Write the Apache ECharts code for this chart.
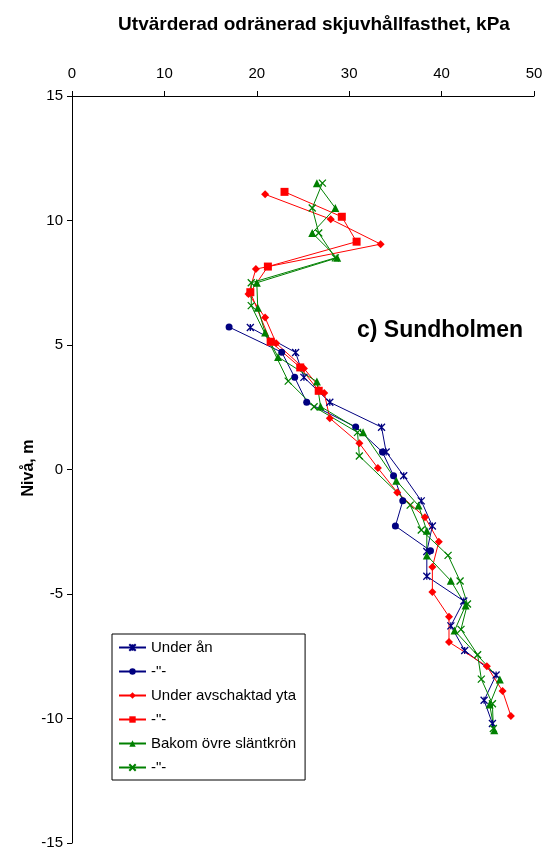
<!DOCTYPE html>
<html>
<head>
<meta charset="utf-8">
<script src="https://cdn.jsdelivr.net/npm/echarts@6/dist/echarts.min.js"></script>
<style>
html,body{margin:0;padding:0;background:#fff;}
#c{width:546px;height:851px;}
</style>
</head>
<body>
<div id="c"></div>
<script>
// ---- Data ----
const xTicks = [0, 10, 20, 30, 40, 50];
const yTicks = [15, 10, 5, 0, -5, -10, -15];

// Under ån (asterisk)
const anStarLevel = [5.7, 4.7, 3.7, 2.7, 1.7, 0.7, -0.25, -1.26, -2.27, -3.29, -4.29, -5.28, -6.28, -7.27, -8.25, -9.27, -10.2];
const anStarValue = [19.3, 24.2, 25.1, 27.9, 33.5, 34.0, 35.9, 37.8, 39.0, 38.4, 38.4, 42.4, 41.0, 42.5, 45.9, 44.6, 45.5];
// -"- (circle)
const anCircLevel = [5.72, 4.71, 3.70, 2.70, 1.71, 0.70, -0.25, -1.26, -2.27, -3.26];
const anCircValue = [17.0, 22.7, 24.1, 25.4, 30.7, 33.6, 34.8, 35.8, 35.0, 38.8];
// Under avschaktad yta (diamond)
const avDiaLevel = [11.05, 10.05, 9.05, 8.05, 7.05, 6.1, 5.07, 4.06, 3.07, 2.06, 1.05, 0.06, -0.92, -1.92, -2.9, -3.92, -4.92, -5.91, -6.93, -7.9, -8.9, -9.9];
const avDiaValue = [20.9, 28.0, 33.4, 19.9, 19.1, 20.9, 22.1, 25.1, 27.3, 27.9, 31.1, 33.1, 35.2, 38.2, 39.7, 39.0, 39.0, 40.8, 40.8, 44.9, 46.6, 47.5];
// -"- (square)
const avSqLevel = [11.15, 10.15, 9.15, 8.15, 7.12, 5.13, 4.1, 3.16];
const avSqValue = [23.0, 29.2, 30.8, 21.2, 19.3, 21.5, 24.7, 26.7];
// Bakom övre släntkrön (triangle)
const bkTriLevel = [11.5, 10.5, 9.5, 8.5, 7.5, 6.5, 5.5, 4.52, 3.53, 2.53, 1.5, -0.45, -1.45, -2.46, -3.45, -4.47, -5.46, -6.47, -8.43, -9.44, -10.47];
const bkTriValue = [26.5, 28.5, 26.0, 28.7, 20.0, 20.1, 20.9, 22.3, 26.5, 26.9, 31.5, 35.1, 37.5, 38.4, 38.4, 41.0, 42.6, 41.4, 46.3, 45.2, 45.7];
// -"- (x)
const bkXLevel = [11.5, 10.5, 9.5, 8.5, 7.5, 6.58, 3.55, 2.52, 1.49, 0.54, -1.43, -2.43, -3.45, -4.48, -5.4, -6.42, -7.44, -8.42, -9.41, -10.4];
const bkXValue = [27.1, 26.0, 26.7, 28.5, 19.4, 19.4, 23.4, 26.2, 30.9, 31.1, 36.6, 37.8, 40.7, 42.0, 42.8, 42.1, 43.9, 44.3, 45.5, 45.6];

const seriesNames = ['Under ån', '-"-', 'Under avschaktad yta', '-"- ', 'Bakom övre släntkrön', '-"-  '];

// ---- Build ----
function pts(xs, ys) { return xs.map((v, i) => [v, ys[i]]); }
const NAVY = '#000080', RED = '#FF0000', GREEN = '#008000';
const STAR = 'path://M0,0L10,10M10,0L0,10M5,0L5,10';
const CROSS = 'path://M0,0L10,10M10,0L0,10';

function mk(name, data, color, symbol, size, stroke) {
  return {
    name: name, type: 'line', data: data,
    symbol: symbol, symbolSize: size,
    showAllSymbol: true,
    lineStyle: { color: color, width: 1 },
    itemStyle: stroke ? { color: color, borderColor: color, borderWidth: 1.3 } : { color: color, borderWidth: 0 },
    emphasis: { disabled: true },
    animation: false,
    z: 2
  };
}

const chart = echarts.init(document.getElementById('c'), null, { renderer: 'canvas' });
const FONT = '"Liberation Sans", Arial, sans-serif';
chart.setOption({
  animation: false,
  textStyle: { fontFamily: FONT },
  grid: { left: 72, right: 12, top: 96, bottom: 8, containLabel: false },
  xAxis: {
    type: 'value', position: 'top', min: 0, max: 50, interval: 10,
    axisLine: { show: true, onZero: false, lineStyle: { color: '#000', width: 1 } },
    axisTick: { show: true, inside: false, length: 5, lineStyle: { color: '#000' } },
    axisLabel: { color: '#000', fontSize: 15, fontFamily: FONT, margin: 15,
      formatter: v => xTicks.includes(v) ? String(v) : '' },
    splitLine: { show: false }
  },
  yAxis: {
    type: 'value', min: -15, max: 15, interval: 5,
    axisLine: { show: true, onZero: false, lineStyle: { color: '#000', width: 1 } },
    axisTick: { show: true, inside: false, length: 5, lineStyle: { color: '#000' } },
    axisLabel: { color: '#000', fontSize: 15, fontFamily: FONT, margin: 9,
      formatter: v => yTicks.includes(v) ? String(v) : '' },
    splitLine: { show: false }
  },
  legend: {
    orient: 'vertical', left: 112, top: 634,
    backgroundColor: '#fff',
    borderColor: '#000', borderWidth: 1,
    padding: [6, 9, 5, 6],
    itemWidth: 27, itemHeight: 8, itemGap: 9,
    textStyle: { color: '#000', fontSize: 15, fontFamily: FONT },
    data: seriesNames
  },
  graphic: [
    { type: 'text', x: 314, y: 25, style: { text: 'Utvärderad odränerad skjuvhållfasthet, kPa', fill: '#000',
      font: 'bold 19px ' + FONT, textAlign: 'center', textVerticalAlign: 'middle' } },
    { type: 'text', x: 357, y: 331, style: { text: 'c) Sundholmen', fill: '#000',
      font: 'bold 23px ' + FONT, textAlign: 'left', textVerticalAlign: 'middle' } },
    { type: 'text', x: 29, y: 468, rotation: Math.PI / 2, style: { text: 'Nivå, m', fill: '#000',
      font: 'bold 16px ' + FONT, textAlign: 'center', textVerticalAlign: 'middle' } }
  ],
  series: [
    mk(seriesNames[0], pts(anStarValue, anStarLevel), NAVY, STAR, 7, true),
    mk(seriesNames[1], pts(anCircValue, anCircLevel), NAVY, 'circle', 7, false),
    mk(seriesNames[2], pts(avDiaValue, avDiaLevel), RED, 'diamond', 8, false),
    mk(seriesNames[3], pts(avSqValue, avSqLevel), RED, 'rect', 8, false),
    mk(seriesNames[4], pts(bkTriValue, bkTriLevel), GREEN, 'triangle', 8, false),
    mk(seriesNames[5], pts(bkXValue, bkXLevel), GREEN, CROSS, 7, true)
  ]
});
</script>
</body>
</html>
